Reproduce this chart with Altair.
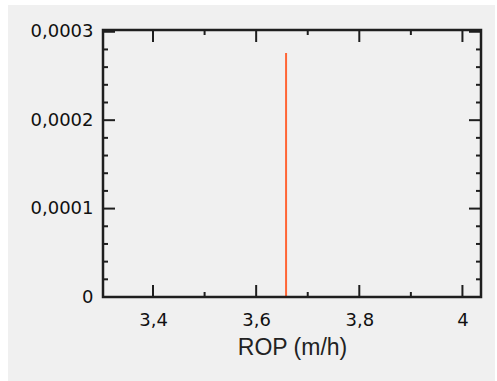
import altair as alt
import pandas as pd

# ---- data ----
rop = [3.658]
density = [0.000276]

x_major = [3.4, 3.6, 3.8, 4.0]
x_minor = [3.5, 3.7, 3.9]
y_major = [0.0, 0.0001, 0.0002, 0.0003]
y_minor = [0.00002, 0.00004, 0.00006, 0.00008,
           0.00012, 0.00014, 0.00016, 0.00018,
           0.00022, 0.00024, 0.00026, 0.00028]

x_domain = [3.303, 4.036]
y_domain = [0.0, 0.000302]

# ---- layout ----
W, H = 378, 267
PAD = {"left": 103, "top": 30, "right": 16, "bottom": 84}

TICK_COLOR = "#1e1e1e"
LABEL_FONT = "DejaVu Sans"
X_TITLE = "ROP (m/h)"
one = pd.DataFrame({"a": [0]})

xs = alt.Scale(domain=x_domain, nice=False, zero=False)
ys = alt.Scale(domain=y_domain, nice=False, zero=False)

x_axis = alt.Axis(
    values=x_major, ticks=False, domain=False, grid=False, zindex=1,
    labelExpr="replace(format(datum.value, '.1~f'), '.', ',')",
    labelFont=LABEL_FONT, labelFontSize=18, labelColor="#111111",
    labelPadding=14,
    titleFont="Liberation Sans", titleFontSize=23, titleFontWeight="normal",
    titleColor="#222222", titlePadding=7,
)
y_axis = alt.Axis(
    values=y_major, ticks=False, domain=False, grid=False, zindex=1,
    labelExpr="datum.value == 0 ? '0' : replace(format(datum.value, '.4f'), '.', ',')",
    labelFont=LABEL_FONT, labelFontSize=18, labelColor="#111111",
    labelPadding=10,
)


def X(field):
    return alt.X(field, scale=xs, axis=x_axis, title=X_TITLE)


def Y(field):
    return alt.Y(field, scale=ys, axis=y_axis, title=None)


bg = alt.Chart(one).mark_rect(color="#f0f0f0").encode(
    x=alt.value(-95), x2=alt.value(W + 14), y=alt.value(-25), y2=alt.value(H + 90)
)

frame = alt.Chart(one).mark_rect(
    fill=None, fillOpacity=0, stroke=TICK_COLOR, strokeWidth=2.5
).encode(x=alt.value(0), x2=alt.value(W), y=alt.value(0), y2=alt.value(H))


def xticks(vals, y0, y1):
    return alt.Chart(pd.DataFrame({"v": vals})).mark_rule(
        color=TICK_COLOR, strokeWidth=2
    ).encode(x=X("v:Q"), y=alt.value(y0), y2=alt.value(y1))


def yticks(vals, x0, x1):
    return alt.Chart(pd.DataFrame({"v": vals})).mark_rule(
        color=TICK_COLOR, strokeWidth=2
    ).encode(y=Y("v:Q"), x=alt.value(x0), x2=alt.value(x1))


MAJ, MIN = 12, 5
ticks = [
    xticks(x_major, H, H - MAJ), xticks(x_major, 0, MAJ),
    xticks(x_minor, H, H - MIN), xticks(x_minor, 0, MIN),
    yticks(y_major, 0, MAJ), yticks(y_major, W, W - MAJ),
    yticks(y_minor, 0, MIN), yticks(y_minor, W, W - MIN),
]

spike_df = pd.DataFrame({"rop": rop, "density": density})
spike = alt.Chart(spike_df).mark_rule(color="#ff6535", strokeWidth=2).encode(
    x=X("rop:Q"),
    y=Y("density:Q"),
    y2=alt.datum(0),
)

chart = alt.layer(bg, *ticks, spike, frame).properties(
    width=W, height=H,
    padding=PAD,
    autosize=alt.AutoSizeParams(type="none"),
    background="white",
).configure_view(stroke=None)

chart.save("out.html", embed_options={"renderer": "svg", "actions": False})
